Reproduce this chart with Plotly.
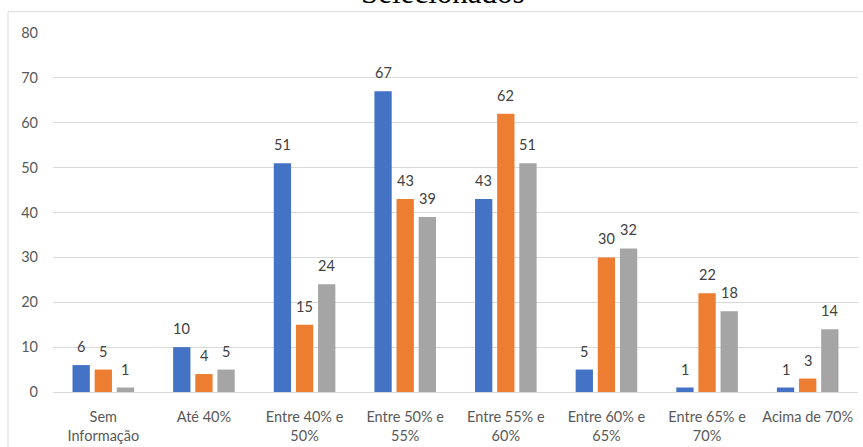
import numpy as np
import plotly.graph_objects as go

categories = ["Sem<br>Informação", "Até 40%", "Entre 40% e<br>50%", "Entre 50% e<br>55%",
              "Entre 55% e<br>60%", "Entre 60% e<br>65%", "Entre 65% e<br>70%", "Acima de 70%"]
serie_azul = [6, 10, 51, 67, 43, 5, 1, 1]
serie_laranja = [5, 4, 15, 43, 62, 30, 22, 3]
serie_cinza = [1, 5, 24, 39, 51, 32, 18, 14]

series = [serie_azul, serie_laranja, serie_cinza]
colors = ["#4472C4", "#ED7D31", "#A5A5A5"]
offsets = [-0.22, 0.0, 0.22]
bar_w = 0.172

W, H = 863, 447
L, R, T, B = 53, 5, 33, 55
plot_w = W - L - R
plot_h = H - T - B

idx = np.arange(len(categories))
fig = go.Figure()
annotations = []
for vals, col, off in zip(series, colors, offsets):
    xs = idx + off
    fig.add_trace(go.Bar(x=xs, y=vals, width=bar_w, marker=dict(color=col, line=dict(width=0)),
                         hoverinfo="y", showlegend=False))
    for xv, yv in zip(xs, vals):
        annotations.append(dict(x=xv, y=yv, xref="x", yref="y", text=str(yv), showarrow=False,
                                yanchor="bottom", yshift=8,
                                font=dict(family="Lato", size=14.5, color="#404040")))

# chart title (upper line falls outside the frame)
annotations.append(dict(x=(443 - L) / plot_w, y=(H - B - 4) / plot_h, xref="paper", yref="paper",
                        text="Selecionados", showarrow=False, xanchor="center", yanchor="bottom",
                        yshift=-8,
                        font=dict(family="Liberation Serif", size=31, color="#000000")))

fig.update_layout(
    width=W, height=H,
    margin=dict(l=L, r=R, t=T, b=B, autoexpand=False),
    paper_bgcolor="white", plot_bgcolor="white",
    annotations=annotations,
    shapes=[dict(type="rect", xref="paper", yref="paper",
                 x0=(8 - L) / plot_w, x1=(W + 10 - L) / plot_w,
                 y0=(H - B - (H + 20)) / plot_h, y1=(H - B - 11.7) / plot_h,
                 line=dict(color="#D9D9D9", width=1), fillcolor="rgba(0,0,0,0)", layer="below")],
    xaxis=dict(range=[-0.5, len(categories) - 0.5], tickvals=idx, ticktext=categories,
               showgrid=False, zeroline=False, showline=True, linecolor="#D9D9D9", linewidth=1,
               ticks="", ticklabelstandoff=12, automargin=False,
               tickfont=dict(family="Lato", size=14.5, color="#595959")),
    yaxis=dict(range=[0, 80], dtick=10, showgrid=True, gridcolor="#D9D9D9", gridwidth=1,
               zeroline=False, showline=False, ticks="", ticklabelstandoff=14, automargin=False,
               tickfont=dict(family="Lato", size=14.5, color="#595959")),
)

fig.write_html("out.html")
